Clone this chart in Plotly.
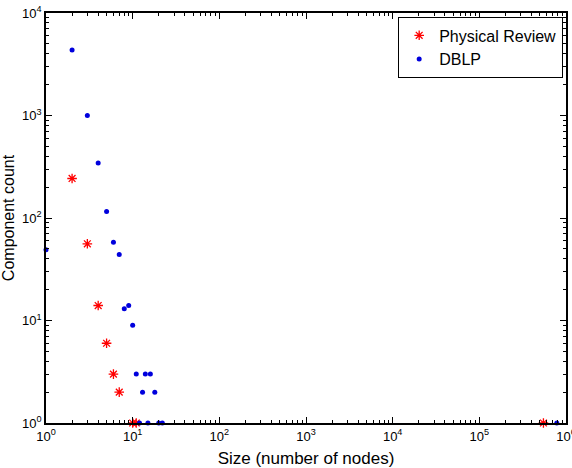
import plotly.graph_objects as go

# Physical Review (red stars)
pr_size = [2, 3, 4, 5, 6, 7, 10, 11, 549000]
pr_count = [243, 56, 14, 6, 3, 2, 1, 1, 1]

# DBLP (blue dots)
dblp_size = [1, 2, 3, 4, 5, 6, 7, 8, 9, 10, 11, 13, 14, 16, 18, 12, 15, 20, 22, 783000]
dblp_count = [49, 4350, 1000, 344, 116, 58, 44, 13, 14, 9, 3, 2, 3, 3, 2, 1, 1, 1, 1, 1]

x_tickvals = [1, 10, 100, 1000, 10000, 100000, 1000000]
x_ticktext = ["10<sup>0</sup>", "10<sup>1</sup>", "10<sup>2</sup>", "10<sup>3</sup>",
              "10<sup>4</sup>", "10<sup>5</sup>", "10<sup>6</sup>"]
y_tickvals = [1, 10, 100, 1000, 10000]
y_ticktext = ["10<sup>0</sup>", "10<sup>1</sup>", "10<sup>2</sup>", "10<sup>3</sup>", "10<sup>4</sup>"]

x_minor = [m * 10 ** d for d in range(6) for m in range(2, 10)]
y_minor = [m * 10 ** d for d in range(4) for m in range(2, 10)]

font = "Liberation Sans, Arial, Helvetica, sans-serif"

fig = go.Figure()
fig.add_trace(go.Scatter(
    x=pr_size, y=pr_count, mode="markers", name="Physical Review",
    marker=dict(symbol="asterisk-open", size=8, color="red", line=dict(color="red", width=1.3)),
    cliponaxis=False,
))
# DBLP is placed on the overlay axes that carry the minor ticks (same ranges)
fig.add_trace(go.Scatter(
    x=dblp_size, y=dblp_count, mode="markers", name="DBLP",
    xaxis="x2", yaxis="y2",
    marker=dict(symbol="circle", size=5, color="#0000dd", line=dict(width=0)),
    cliponaxis=False,
))

axis_common = dict(
    type="log", showgrid=False, zeroline=False, automargin=False,
    showline=True, linecolor="black", linewidth=1.8, mirror="allticks",
    ticks="inside", ticklen=6, tickcolor="black", tickwidth=1,
    tickfont=dict(family=font, size=13, color="black"),
    ticklabeloverflow="allow",
)
minor_common = dict(
    type="log", showgrid=False, zeroline=False, showline=True, linecolor="black",
    linewidth=1.8, automargin=False,
    mirror="allticks", ticks="inside", ticklen=3, tickcolor="black", tickwidth=1,
    showticklabels=False,
)

fig.update_layout(
    xaxis=dict(
        range=[0, 6], tickvals=x_tickvals, ticktext=x_ticktext,
        title=dict(text="Size (number of nodes)", font=dict(family=font, size=17, color="black"), standoff=10),
        **axis_common,
    ),
    yaxis=dict(
        range=[0, 4], tickvals=y_tickvals, ticktext=y_ticktext,
        title=dict(text="Component count", font=dict(family=font, size=16, color="black"), standoff=4),
        **axis_common,
    ),
    xaxis2=dict(overlaying="x", anchor="y2", side="bottom",
                range=[0, 6], tickvals=x_minor, **minor_common),
    yaxis2=dict(overlaying="y", anchor="x2", side="left",
                range=[0, 4], tickvals=y_minor, **minor_common),
)

fig.update_layout(
    width=572, height=468,
    margin=dict(l=46, r=6, t=13, b=45),
    paper_bgcolor="white", plot_bgcolor="white",
    font=dict(family=font, color="black"),
    showlegend=True,
    legend=dict(
        x=0.994, xanchor="right", y=0.99, yanchor="top",
        bordercolor="black", borderwidth=1.3, bgcolor="white",
        font=dict(family=font, size=16, color="black"),
        tracegroupgap=0, itemwidth=30,
    ),
)

fig.write_html("out.html")
